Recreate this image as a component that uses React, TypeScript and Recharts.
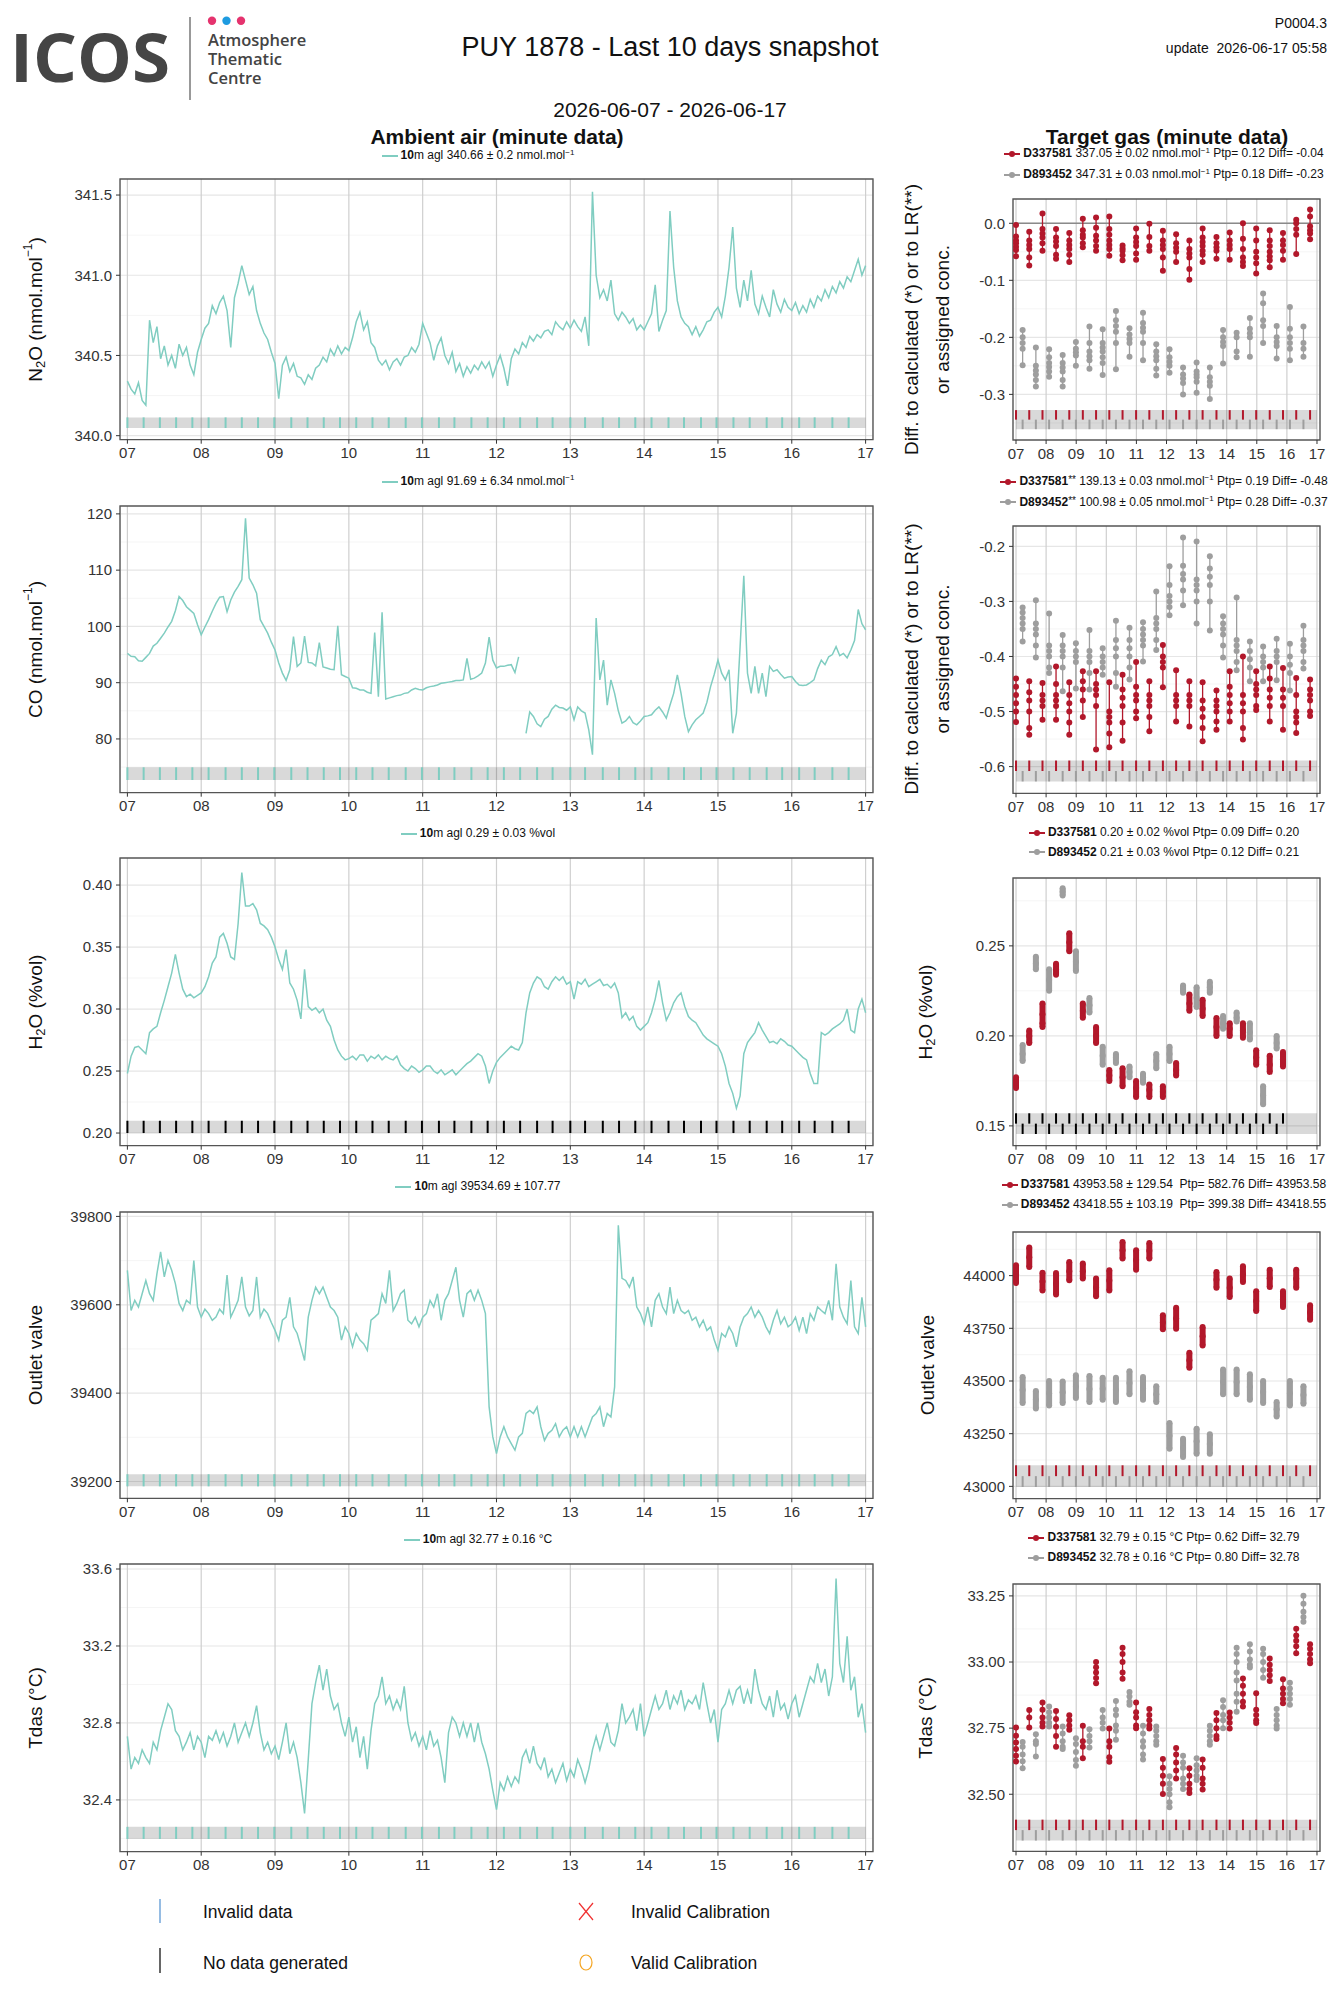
import React from 'react';
import { ComposedChart, Line, Scatter, XAxis, YAxis, CartesianGrid, ReferenceLine, ReferenceArea } from 'recharts';

const FONT = '"Liberation Sans", Arial, Helvetica, sans-serif';
const TEAL = '#80CDC1';
const RED = '#B2182B';
const GRAY = '#9E9E9E';

// ---------- axes / ticks ----------
const DAY_TICKS = [7, 8, 9, 10, 11, 12, 13, 14, 15, 16, 17];
const X_DOMAIN: [number, number] = [6.9, 17.1];
const SERIES_START = 7;
const SERIES_STEP = 0.05;

const N2O_TICKS = [340.0, 340.5, 341.0, 341.5];
const N2O_MINOR = [340.25, 340.75, 341.25];
const CO_TICKS = [80, 90, 100, 110, 120];
const CO_MINOR = [75, 85, 95, 105, 115];
const H2O_TICKS = [0.2, 0.25, 0.3, 0.35, 0.4];
const H2O_MINOR = [0.225, 0.275, 0.325, 0.375];
const OUT_TICKS = [39200, 39400, 39600, 39800];
const OUT_MINOR = [39300, 39500, 39700];
const TDAS_TICKS = [32.4, 32.8, 33.2, 33.6];
const TDAS_MINOR = [32.2, 32.6, 33.0, 33.4];

const N2O_TG_TICKS = [-0.3, -0.2, -0.1, 0.0];
const N2O_TG_MINOR = [-0.35, -0.25, -0.15, -0.05];
const CO_TG_TICKS = [-0.6, -0.5, -0.4, -0.3, -0.2];
const CO_TG_MINOR = [-0.55, -0.45, -0.35, -0.25];
const H2O_TG_TICKS = [0.15, 0.2, 0.25];
const H2O_TG_MINOR = [0.175, 0.225, 0.275];
const OUT_TG_TICKS = [43000, 43250, 43500, 43750, 44000];
const OUT_TG_MINOR = [43125, 43375, 43625, 43875, 44125];
const TDAS_TG_TICKS = [32.5, 32.75, 33.0, 33.25];
const TDAS_TG_MINOR = [32.375, 32.625, 32.875, 33.125];

// ---------- target gas measurement times (days of June) ----------
const TG_RED_TIMES = [7.0, 7.44, 7.88, 8.33, 8.77, 9.22, 9.66, 10.1, 10.54, 10.99, 11.43, 11.88, 12.32, 12.76, 13.2, 13.66, 14.1, 14.54, 14.98, 15.43, 15.87, 16.31, 16.77];
const TG_GRAY_TIMES = [7.22, 7.66, 8.1, 8.55, 8.99, 9.44, 9.88, 10.32, 10.77, 11.22, 11.66, 12.1, 12.55, 13.0, 13.44, 13.88, 14.33, 14.77, 15.21, 15.66, 16.1, 16.55];
const BAND_TIMES = [7.0, 7.22, 7.44, 7.66, 7.88, 8.1, 8.33, 8.55, 8.77, 8.99, 9.22, 9.44, 9.66, 9.88, 10.1, 10.32, 10.54, 10.77, 10.99, 11.22, 11.43, 11.66, 11.88, 12.1, 12.32, 12.55, 12.76, 13.0, 13.2, 13.44, 13.66, 13.88, 14.1, 14.33, 14.54, 14.77, 14.98, 15.21, 15.43, 15.66, 15.87, 16.1, 16.31, 16.55, 16.77];

// ---------- ambient air series (10m agl), one value every 0.05 day from 07.00 ----------
const N2O_10M = [
  340.34, 340.29, 340.26, 340.33, 340.22, 340.19, 340.72, 340.58, 340.68, 340.48, 340.56, 340.44, 340.50, 340.42, 340.57, 340.50, 340.55, 340.44, 340.38, 340.52,
  340.60, 340.67, 340.70, 340.81, 340.76, 340.83, 340.87, 340.78, 340.55, 340.86, 340.95, 341.06, 340.97, 340.88, 340.93, 340.78, 340.70, 340.64, 340.60, 340.52,
  340.45, 340.23, 340.44, 340.49, 340.40, 340.45, 340.37, 340.36, 340.32, 340.38, 340.35, 340.42, 340.44, 340.49, 340.46, 340.54, 340.50, 340.56, 340.51, 340.55,
  340.53, 340.61, 340.71, 340.77, 340.66, 340.71, 340.58, 340.55, 340.47, 340.44, 340.47, 340.41, 340.46, 340.48, 340.44, 340.49, 340.50, 340.55, 340.52, 340.57,
  340.70, 340.64, 340.58, 340.47, 340.56, 340.61, 340.50, 340.45, 340.52, 340.40, 340.45, 340.37, 340.43, 340.39, 340.44, 340.41, 340.46, 340.42, 340.46, 340.37,
  340.44, 340.50, 340.42, 340.31, 340.48, 340.54, 340.51, 340.58, 340.55, 340.62, 340.59, 340.63, 340.61, 340.65, 340.66, 340.63, 340.71, 340.68, 340.66, 340.71,
  340.67, 340.72, 340.68, 340.65, 340.74, 340.56, 341.52, 341.00, 340.86, 340.91, 340.84, 340.97, 340.76, 340.72, 340.77, 340.74, 340.70, 340.73, 340.66, 340.69,
  340.66, 340.71, 340.76, 340.94, 340.65, 340.72, 340.78, 341.40, 341.05, 340.84, 340.74, 340.70, 340.68, 340.63, 340.68, 340.62, 340.66, 340.71, 340.72, 340.77,
  340.80, 340.74, 340.87, 341.05, 341.30, 340.92, 340.80, 340.97, 340.84, 341.03, 340.82, 340.76, 340.87, 340.80, 340.74, 340.91, 340.82, 340.77, 340.85, 340.80,
  340.78, 340.83, 340.76, 340.81, 340.77, 340.85, 340.80, 340.87, 340.84, 340.91, 340.86, 340.93, 340.89, 340.96, 340.92, 340.99, 340.96, 341.03, 341.10, 341.00,
  341.06,
];

const CO_10M: (number | null)[] = [
  95.2, 94.7, 94.6, 93.9, 93.8, 94.5, 95.2, 96.5, 97.0, 97.9, 98.8, 99.9, 100.9, 102.8, 105.3, 104.6, 103.5, 102.9, 102.3, 100.3,
  98.5, 99.9, 101.2, 102.7, 104.1, 105.2, 105.3, 102.6, 104.7, 106.1, 107.1, 108.3, 119.2, 108.6, 107.4, 105.9, 101.2, 100.0, 98.8, 97.2,
  95.8, 93.5, 91.7, 90.4, 92.3, 98.2, 92.9, 93.5, 98.3, 93.6, 93.5, 93.0, 97.1, 92.8, 92.6, 92.4, 92.3, 100.1, 91.4, 91.1,
  90.8, 89.1, 89.0, 88.7, 88.7, 88.3, 88.1, 98.9, 87.5, 102.5, 87.1, 87.3, 87.5, 87.7, 87.8, 88.1, 88.2, 88.7, 89.0, 88.8,
  88.7, 89.1, 89.3, 89.4, 89.6, 89.9, 90.0, 90.1, 90.2, 90.4, 90.4, 90.5, 94.3, 90.6, 90.8, 91.2, 91.7, 93.5, 98.1, 94.0,
  92.6, 92.9, 92.9, 93.1, 93.2, 91.8, 94.6, null, 81.0, 84.8, 84.0, 82.7, 82.2, 83.5, 84.0, 85.3, 86.0, 85.6, 85.5, 85.1,
  85.7, 83.4, 85.7, 85.0, 84.6, 81.6, 77.2, 101.5, 90.5, 94.0, 86.0, 90.5, 88.1, 85.0, 82.8, 83.2, 84.0, 82.9, 82.5, 83.2,
  84.0, 84.1, 84.3, 85.1, 85.7, 84.8, 83.7, 86.0, 88.1, 91.4, 88.1, 84.0, 81.3, 82.5, 83.4, 84.0, 84.6, 86.5, 89.3, 91.5,
  94.0, 91.7, 90.5, 92.3, 81.0, 84.6, 96.4, 109.0, 91.7, 88.1, 92.9, 88.1, 91.7, 87.5, 92.9, 92.0, 92.3, 91.5, 90.8, 91.0,
  91.1, 90.2, 89.6, 89.5, 89.6, 90.0, 90.5, 92.5, 94.0, 93.2, 94.6, 95.0, 96.4, 94.8, 95.2, 94.4, 95.8, 97.5, 103.0, 100.5,
  99.4,
];

const H2O_10M = [
  0.248, 0.262, 0.269, 0.270, 0.267, 0.264, 0.281, 0.284, 0.286, 0.297, 0.307, 0.318, 0.329, 0.344, 0.329, 0.316, 0.310, 0.312, 0.309, 0.311,
  0.313, 0.318, 0.326, 0.337, 0.342, 0.358, 0.361, 0.353, 0.342, 0.340, 0.369, 0.410, 0.383, 0.383, 0.385, 0.380, 0.369, 0.367, 0.364, 0.358,
  0.350, 0.340, 0.332, 0.348, 0.321, 0.316, 0.307, 0.292, 0.332, 0.302, 0.299, 0.301, 0.297, 0.300, 0.291, 0.286, 0.275, 0.267, 0.262, 0.259,
  0.260, 0.262, 0.259, 0.263, 0.263, 0.258, 0.262, 0.260, 0.263, 0.259, 0.262, 0.260, 0.259, 0.262, 0.255, 0.252, 0.250, 0.254, 0.252, 0.249,
  0.251, 0.254, 0.254, 0.250, 0.248, 0.251, 0.247, 0.249, 0.251, 0.247, 0.250, 0.253, 0.256, 0.258, 0.261, 0.264, 0.262, 0.254, 0.240, 0.250,
  0.257, 0.261, 0.264, 0.267, 0.270, 0.268, 0.267, 0.273, 0.297, 0.313, 0.321, 0.326, 0.324, 0.318, 0.316, 0.322, 0.326, 0.323, 0.326, 0.320,
  0.322, 0.308, 0.322, 0.320, 0.324, 0.318, 0.320, 0.322, 0.324, 0.319, 0.320, 0.317, 0.321, 0.313, 0.293, 0.297, 0.291, 0.294, 0.286, 0.283,
  0.286, 0.289, 0.297, 0.308, 0.323, 0.305, 0.291, 0.297, 0.305, 0.310, 0.313, 0.302, 0.294, 0.291, 0.289, 0.284, 0.279, 0.276, 0.274, 0.272,
  0.270, 0.264, 0.254, 0.240, 0.232, 0.220, 0.230, 0.264, 0.273, 0.277, 0.281, 0.289, 0.283, 0.278, 0.273, 0.274, 0.272, 0.276, 0.274, 0.271,
  0.270, 0.267, 0.264, 0.261, 0.259, 0.248, 0.240, 0.240, 0.281, 0.279, 0.281, 0.284, 0.286, 0.288, 0.291, 0.300, 0.283, 0.281, 0.300, 0.308,
  0.297,
];

const OUT_10M = [
  39678, 39587, 39610, 39595, 39625, 39655, 39625, 39610, 39670, 39720, 39663, 39700, 39678, 39648, 39603, 39587, 39610, 39603, 39700, 39595,
  39572, 39590, 39580, 39565, 39572, 39590, 39580, 39667, 39572, 39590, 39610, 39663, 39595, 39575, 39587, 39663, 39572, 39590, 39580, 39560,
  39542, 39520, 39565, 39572, 39617, 39550, 39535, 39505, 39474, 39572, 39610, 39640, 39625, 39640, 39617, 39595, 39587, 39572, 39520, 39550,
  39535, 39505, 39535, 39520, 39512, 39497, 39565, 39572, 39580, 39625, 39603, 39678, 39587, 39603, 39625, 39633, 39565, 39557, 39572, 39550,
  39572, 39580, 39610, 39595, 39625, 39565, 39610, 39625, 39655, 39685, 39610, 39572, 39625, 39633, 39610, 39633, 39610, 39580, 39369, 39301,
  39263, 39301, 39324, 39301, 39286, 39271, 39301, 39309, 39354, 39361, 39354, 39369, 39324, 39293, 39309, 39316, 39331, 39301, 39316, 39324,
  39301, 39324, 39301, 39324, 39301, 39324, 39346, 39354, 39369, 39324, 39354, 39346, 39414, 39780, 39660, 39655, 39640, 39663, 39595, 39580,
  39557, 39595, 39550, 39610, 39625, 39595, 39580, 39640, 39580, 39610, 39587, 39580, 39587, 39565, 39572, 39550, 39565, 39542, 39550, 39520,
  39497, 39535, 39527, 39550, 39535, 39505, 39550, 39572, 39580, 39595, 39572, 39587, 39572, 39550, 39535, 39565, 39587, 39557, 39572, 39550,
  39557, 39572, 39542, 39572, 39535, 39580, 39565, 39595, 39587, 39580, 39610, 39565, 39693, 39595, 39572, 39557, 39655, 39550, 39535, 39617,
  39550,
];

const TDAS_10M = [
  32.73, 32.56, 32.62, 32.59, 32.66, 32.62, 32.59, 32.70, 32.66, 32.76, 32.83, 32.90, 32.87, 32.76, 32.73, 32.66, 32.70, 32.75, 32.66, 32.73,
  32.70, 32.62, 32.73, 32.71, 32.76, 32.70, 32.75, 32.68, 32.73, 32.80, 32.70, 32.75, 32.80, 32.73, 32.80, 32.89, 32.75, 32.66, 32.70, 32.64,
  32.68, 32.61, 32.70, 32.80, 32.64, 32.70, 32.62, 32.49, 32.33, 32.61, 32.90, 33.01, 33.10, 32.97, 33.08, 32.94, 32.87, 32.90, 32.80, 32.73,
  32.83, 32.70, 32.78, 32.62, 32.73, 32.56, 32.76, 32.90, 32.94, 33.04, 32.90, 32.94, 32.87, 32.92, 32.87, 32.99, 32.80, 32.71, 32.75, 32.68,
  32.73, 32.66, 32.76, 32.68, 32.71, 32.62, 32.49, 32.75, 32.83, 32.80, 32.73, 32.80, 32.73, 32.80, 32.70, 32.80, 32.70, 32.64, 32.56, 32.45,
  32.35, 32.49, 32.45, 32.52, 32.47, 32.52, 32.49, 32.62, 32.66, 32.59, 32.68, 32.59, 32.56, 32.62, 32.52, 32.56, 32.49, 32.54, 32.59, 32.50,
  32.56, 32.52, 32.61, 32.56, 32.49, 32.56, 32.66, 32.73, 32.66, 32.73, 32.80, 32.70, 32.68, 32.76, 32.90, 32.80, 32.83, 32.87, 32.76, 32.90,
  32.73, 32.80, 32.87, 32.94, 32.87, 32.90, 32.97, 32.87, 32.94, 32.90, 32.97, 32.87, 32.92, 32.90, 32.94, 32.87, 33.01, 32.90, 32.80, 32.87,
  32.70, 32.87, 32.90, 32.97, 32.90, 32.97, 32.99, 32.90, 32.97, 32.90, 33.08, 32.97, 32.90, 32.87, 32.94, 32.83, 32.97, 32.87, 32.90, 32.82,
  32.90, 32.94, 32.83, 32.90, 32.97, 33.04, 33.01, 33.11, 33.01, 33.08, 32.94, 33.04, 33.55, 33.11, 33.01, 33.25, 32.97, 33.04, 32.83, 32.90,
  32.75,
];

// ---------- target gas clusters (values per measurement) ----------
const N2O_TG_RED = [
  [-0.003, -0.023, -0.030, -0.035, -0.041, -0.047, -0.058], [-0.015, -0.030, -0.038, -0.045, -0.060, -0.074], [0.017, -0.010, -0.018, -0.025, -0.035, -0.048],
  [-0.010, -0.025, -0.032, -0.040, -0.055, -0.062], [-0.017, -0.030, -0.038, -0.045, -0.055, -0.068], [0.008, -0.012, -0.020, -0.025, -0.035, -0.042],
  [0.010, -0.008, -0.022, -0.030, -0.040, -0.048], [0.012, -0.010, -0.020, -0.030, -0.038, -0.045, -0.057], [-0.039, -0.044, -0.048, -0.056, -0.065],
  [-0.009, -0.025, -0.033, -0.040, -0.053, -0.064], [-0.001, -0.024, -0.040, -0.048], [-0.013, -0.030, -0.038, -0.045, -0.060, -0.083],
  [-0.019, -0.035, -0.043, -0.050, -0.068], [-0.030, -0.045, -0.053, -0.060, -0.080, -0.099], [-0.009, -0.025, -0.033, -0.040, -0.048, -0.055, -0.068],
  [-0.024, -0.035, -0.042, -0.048, -0.062], [-0.016, -0.030, -0.038, -0.045, -0.064], [0.000, -0.027, -0.045, -0.060, -0.068, -0.075],
  [-0.009, -0.030, -0.050, -0.060, -0.070, -0.088], [-0.012, -0.030, -0.040, -0.050, -0.058, -0.065, -0.077], [-0.017, -0.030, -0.038, -0.048, -0.064],
  [0.006, 0.000, -0.010, -0.020, -0.054], [0.024, 0.012, -0.005, -0.012, -0.018, -0.028],
];
const N2O_TG_GRAY = [
  [-0.187, -0.200, -0.210, -0.220, -0.249], [-0.218, -0.250, -0.258, -0.265, -0.275, -0.286], [-0.221, -0.235, -0.245, -0.252, -0.260, -0.269],
  [-0.231, -0.245, -0.253, -0.260, -0.275, -0.286], [-0.208, -0.220, -0.226, -0.232, -0.250], [-0.181, -0.210, -0.225, -0.233, -0.240, -0.255],
  [-0.186, -0.210, -0.218, -0.225, -0.235, -0.245, -0.266], [-0.154, -0.170, -0.180, -0.190, -0.210, -0.256], [-0.184, -0.195, -0.203, -0.210, -0.234],
  [-0.157, -0.175, -0.183, -0.190, -0.210, -0.240], [-0.212, -0.225, -0.233, -0.240, -0.255, -0.267], [-0.221, -0.235, -0.243, -0.250, -0.262],
  [-0.253, -0.265, -0.272, -0.280, -0.300], [-0.244, -0.260, -0.265, -0.270, -0.278, -0.297], [-0.253, -0.270, -0.278, -0.285, -0.308],
  [-0.187, -0.200, -0.208, -0.215, -0.246], [-0.192, -0.200, -0.225, -0.235], [-0.166, -0.185, -0.193, -0.200, -0.234],
  [-0.123, -0.140, -0.170, -0.180, -0.210], [-0.180, -0.200, -0.208, -0.215, -0.237], [-0.147, -0.185, -0.200, -0.210, -0.220, -0.240],
  [-0.181, -0.210, -0.220, -0.234],
];

const CO_TG_RED = [
  [-0.440, -0.455, -0.470, -0.485, -0.500, -0.519], [-0.445, -0.465, -0.480, -0.500, -0.530, -0.542], [-0.448, -0.470, -0.480, -0.490, -0.515],
  [-0.418, -0.450, -0.470, -0.480, -0.490, -0.515], [-0.447, -0.470, -0.485, -0.500, -0.520, -0.542], [-0.427, -0.445, -0.460, -0.480, -0.510],
  [-0.427, -0.450, -0.460, -0.470, -0.490, -0.569], [-0.447, -0.500, -0.510, -0.520, -0.540, -0.565], [-0.433, -0.460, -0.475, -0.490, -0.520, -0.553],
  [-0.410, -0.455, -0.470, -0.480, -0.500, -0.512], [-0.445, -0.470, -0.480, -0.490, -0.510, -0.536], [-0.379, -0.400, -0.410, -0.420, -0.456],
  [-0.425, -0.470, -0.480, -0.490, -0.518], [-0.445, -0.470, -0.480, -0.490, -0.527], [-0.447, -0.480, -0.495, -0.510, -0.530, -0.554],
  [-0.462, -0.480, -0.490, -0.500, -0.518, -0.533], [-0.427, -0.455, -0.470, -0.485, -0.500, -0.518], [-0.400, -0.470, -0.485, -0.500, -0.530, -0.551],
  [-0.427, -0.450, -0.460, -0.470, -0.490, -0.497], [-0.418, -0.440, -0.460, -0.475, -0.490, -0.518], [-0.421, -0.460, -0.475, -0.490, -0.533],
  [-0.439, -0.470, -0.500, -0.510, -0.520, -0.539], [-0.442, -0.460, -0.470, -0.480, -0.500, -0.508],
];
const CO_TG_GRAY = [
  [-0.311, -0.320, -0.330, -0.340, -0.350, -0.373], [-0.298, -0.340, -0.350, -0.360, -0.380, -0.402], [-0.322, -0.380, -0.390, -0.400, -0.420, -0.430],
  [-0.361, -0.380, -0.390, -0.400, -0.420, -0.463], [-0.376, -0.390, -0.400, -0.410, -0.458], [-0.352, -0.390, -0.400, -0.410, -0.430, -0.460],
  [-0.385, -0.400, -0.410, -0.420, -0.433], [-0.335, -0.370, -0.385, -0.400, -0.430, -0.455], [-0.348, -0.370, -0.385, -0.400, -0.420, -0.442],
  [-0.338, -0.350, -0.360, -0.370, -0.380, -0.409], [-0.282, -0.330, -0.340, -0.350, -0.370, -0.388], [-0.236, -0.270, -0.290, -0.300, -0.310, -0.325],
  [-0.184, -0.235, -0.250, -0.260, -0.280, -0.307], [-0.191, -0.260, -0.270, -0.280, -0.300, -0.340], [-0.218, -0.240, -0.255, -0.270, -0.300, -0.353],
  [-0.327, -0.340, -0.350, -0.360, -0.380, -0.402], [-0.293, -0.370, -0.380, -0.390, -0.410, -0.425], [-0.373, -0.390, -0.405, -0.420, -0.445],
  [-0.382, -0.400, -0.410, -0.420, -0.445], [-0.368, -0.390, -0.400, -0.410, -0.443], [-0.377, -0.400, -0.415, -0.430, -0.462],
  [-0.344, -0.370, -0.380, -0.390, -0.410, -0.422],
];

const H2O_TG_RED = [
  [0.177, 0.174, 0.171], [0.203, 0.200, 0.196], [0.218, 0.212, 0.207, 0.205], [0.240, 0.237, 0.234], [0.257, 0.252, 0.247],
  [0.218, 0.214, 0.210], [0.205, 0.200, 0.196], [0.181, 0.178, 0.175], [0.182, 0.177, 0.172], [0.175, 0.171, 0.166],
  [0.173, 0.170, 0.166], [0.172, 0.169, 0.166], [0.185, 0.181, 0.178], [0.223, 0.218, 0.214], [0.220, 0.215, 0.211],
  [0.210, 0.205, 0.200], [0.207, 0.204, 0.200], [0.207, 0.203, 0.199], [0.192, 0.188, 0.184], [0.189, 0.184, 0.180],
  [0.191, 0.187, 0.183],
];
const H2O_TG_GRAY = [
  [0.195, 0.190, 0.186], [0.244, 0.240, 0.237], [0.237, 0.231, 0.225], [0.282, 0.280, 0.278], [0.247, 0.241, 0.236],
  [0.221, 0.217, 0.213], [0.194, 0.189, 0.184], [0.190, 0.188, 0.185], [0.183, 0.180, 0.177], [0.179, 0.177, 0.174],
  [0.190, 0.186, 0.182], [0.194, 0.190, 0.186], [0.228, 0.226, 0.224], [0.227, 0.221, 0.216], [0.230, 0.227, 0.224],
  [0.211, 0.207, 0.204], [0.213, 0.210, 0.208], [0.207, 0.202, 0.198], [0.172, 0.167, 0.162], [0.200, 0.196, 0.193],
];

const OUT_TG_RED = [
  [44049, 44007, 43965], [44133, 44087, 44041], [44014, 43972, 43930], [44013, 43962, 43911], [44065, 44021, 43978],
  [44057, 44021, 43986], [43986, 43944, 43902], [44025, 43977, 43930], [44160, 44120, 44081], [44120, 44074, 44028],
  [44155, 44118, 44081], [43812, 43778, 43745], [43847, 43797, 43748], [43634, 43598, 43563], [43756, 43712, 43669],
  [44017, 43980, 43943], [43986, 43942, 43899], [44044, 44007, 43970], [43926, 43879, 43832], [44028, 43987, 43946],
  [43926, 43888, 43851], [44028, 43985, 43943], [43859, 43825, 43791],
];
const OUT_TG_GRAY = [
  [43519, 43457, 43396], [43453, 43411, 43369], [43500, 43442, 43384], [43498, 43447, 43396], [43527, 43473, 43419],
  [43524, 43462, 43400], [43516, 43463, 43411], [43516, 43458, 43400], [43546, 43491, 43437], [43519, 43465, 43411],
  [43475, 43437, 43400], [43301, 43240, 43179], [43226, 43182, 43139], [43274, 43214, 43155], [43247, 43201, 43155],
  [43554, 43495, 43437], [43554, 43495, 43437], [43532, 43471, 43411], [43500, 43448, 43396], [43400, 43366, 43332],
  [43500, 43442, 43384], [43475, 43433, 43392],
];

const TDAS_TG_RED = [
  [32.752, 32.721, 32.696, 32.671, 32.646, 32.624], [32.819, 32.790, 32.752], [32.847, 32.820, 32.790, 32.770, 32.756],
  [32.815, 32.785, 32.755, 32.720, 32.680], [32.799, 32.780, 32.760, 32.744], [32.759, 32.700, 32.680, 32.636],
  [33.000, 32.980, 32.960, 32.940, 32.920], [32.749, 32.700, 32.680, 32.640, 32.623], [33.054, 33.030, 33.000, 32.960, 32.937],
  [32.847, 32.810, 32.790, 32.760, 32.750], [32.822, 32.800, 32.780, 32.760, 32.749], [32.633, 32.600, 32.570, 32.540, 32.501],
  [32.675, 32.650, 32.620, 32.590, 32.560], [32.598, 32.570, 32.540, 32.520, 32.505], [32.631, 32.600, 32.560, 32.540, 32.518],
  [32.807, 32.780, 32.750, 32.720, 32.709], [32.809, 32.790, 32.770, 32.749], [32.938, 32.910, 32.880, 32.850, 32.832],
  [32.882, 32.820, 32.800, 32.780, 32.769], [33.013, 32.990, 32.970, 32.950, 32.928], [32.935, 32.900, 32.880, 32.860, 32.844],
  [33.126, 33.100, 33.080, 33.060, 33.033], [33.067, 33.050, 33.030, 33.010, 32.995],
];
const TDAS_TG_GRAY = [
  [32.698, 32.680, 32.650, 32.625, 32.598], [32.727, 32.700, 32.690, 32.643], [32.832, 32.810, 32.790, 32.770, 32.756],
  [32.756, 32.730, 32.700, 32.680, 32.671], [32.712, 32.690, 32.660, 32.630, 32.608], [32.746, 32.720, 32.700, 32.677],
  [32.819, 32.790, 32.770, 32.749], [32.853, 32.820, 32.800, 32.760, 32.740, 32.706], [32.887, 32.870, 32.850, 32.838],
  [32.759, 32.730, 32.700, 32.680, 32.650, 32.631], [32.756, 32.740, 32.720, 32.700, 32.687], [32.568, 32.540, 32.520, 32.500, 32.470, 32.451],
  [32.646, 32.620, 32.600, 32.560, 32.540, 32.520], [32.636, 32.610, 32.590, 32.570, 32.554], [32.759, 32.740, 32.720, 32.700, 32.687],
  [32.855, 32.830, 32.800, 32.780, 32.750], [33.054, 33.030, 33.000, 32.960, 32.930, 32.880, 32.850, 32.812], [33.067, 33.040, 33.010, 32.990, 32.979],
  [33.050, 33.030, 33.000, 32.970, 32.941], [32.822, 32.800, 32.780, 32.760, 32.749], [32.922, 32.900, 32.880, 32.860, 32.838],
  [33.251, 33.220, 33.190, 33.170, 33.152],
];

// ---------- helpers ----------
const f0 = (v: number) => String(v);
const f1 = (v: number) => v.toFixed(1);
const f2 = (v: number) => v.toFixed(2);
const pad2 = (v: number) => (v < 10 ? '0' + v : String(v));

type Cfg = {
  x: number; y: number; w: number; h: number; yw: number;
  dom: [number, number]; ticks: number[]; minor: number[]; fmt: (v: number) => string;
  band: [number, number];
  series?: (number | null)[];
  bandColor?: string;
  red?: number[][]; gray?: number[][];
  tgTickColors?: [string, string];
  dense?: boolean; zero?: boolean;
};

const R = 3;
const dotShape = (color: string) => (p: any) => <circle cx={p.cx} cy={p.cy} r={R} fill={color} />;

function Panel(c: Cfg) {
  const TM = 6, RM = 6, XH = 30;
  const width = c.yw + c.w + RM;
  const height = TM + c.h + XH;
  const lineData = c.series ? c.series.map((v, i) => ({ x: SERIES_START + i * SERIES_STEP, y: v })) : undefined;
  const redPts = c.red ? c.red.flatMap((vals, i) => vals.map((v) => ({ x: TG_RED_TIMES[i], y: v }))) : [];
  const grayPts = c.gray ? c.gray.flatMap((vals, i) => vals.map((v) => ({ x: TG_GRAY_TIMES[i], y: v }))) : [];
  const mid = (c.band[0] + c.band[1]) / 2;
  const tickFont = { fontSize: 15, fill: '#333', fontFamily: FONT };
  const rangeW = c.dense ? R * 2 : 1.3;
  return (
    <div style={{ position: 'absolute', left: c.x - c.yw, top: c.y - TM }}>
      <ComposedChart width={width} height={height} margin={{ top: TM, right: RM, bottom: 0, left: 0 }}>
        <CartesianGrid vertical={false} horizontalValues={c.minor} stroke="#f3f3f3" strokeWidth={0.8} />
        <CartesianGrid vertical={false} horizontalValues={c.ticks} stroke="#e6e6e6" strokeWidth={1.2} />
        <CartesianGrid horizontal={false} stroke="#cfcfcf" strokeWidth={1.2} />
        <XAxis dataKey="x" type="number" domain={X_DOMAIN} ticks={DAY_TICKS} interval={0} allowDataOverflow
          tickFormatter={pad2} height={XH} tickSize={4} tickMargin={4} axisLine={false}
          tickLine={{ stroke: '#333' }} tick={tickFont} />
        <YAxis type="number" domain={c.dom} ticks={c.ticks} interval={0} allowDataOverflow tickFormatter={c.fmt}
          width={c.yw} tickSize={4} tickMargin={4} axisLine={false} tickLine={{ stroke: '#333' }} tick={tickFont} />
        <ReferenceArea x1={7} x2={17} y1={c.band[0]} y2={c.band[1]} fill="#000" fillOpacity={0.15} stroke="none" />
        {c.zero && <ReferenceLine y={0} stroke="#8a8a8a" strokeWidth={1.6} />}
        {c.bandColor && BAND_TIMES.map((t) => (
          <ReferenceLine key={'bt' + t} segment={[{ x: t, y: c.band[0] }, { x: t, y: c.band[1] }]} stroke={c.bandColor} strokeWidth={2} />
        ))}
        {c.red && c.red.map((_, i) => (
          <ReferenceLine key={'rt' + i} segment={[{ x: TG_RED_TIMES[i], y: mid }, { x: TG_RED_TIMES[i], y: c.band[1] }]}
            stroke={c.tgTickColors ? c.tgTickColors[0] : RED} strokeWidth={2} />
        ))}
        {c.gray && c.gray.map((_, i) => (
          <ReferenceLine key={'gt' + i} segment={[{ x: TG_GRAY_TIMES[i], y: c.band[0] }, { x: TG_GRAY_TIMES[i], y: mid }]}
            stroke={c.tgTickColors ? c.tgTickColors[1] : GRAY} strokeWidth={2} />
        ))}
        {lineData && (
          <Line data={lineData} dataKey="y" type="linear" stroke={TEAL} strokeWidth={1.5} dot={false}
            activeDot={false} connectNulls={false} isAnimationActive={false} />
        )}
        {c.gray && c.gray.map((vals, i) => (
          <ReferenceLine key={'gr' + i} segment={[{ x: TG_GRAY_TIMES[i], y: Math.min(...vals) }, { x: TG_GRAY_TIMES[i], y: Math.max(...vals) }]}
            stroke={GRAY} strokeWidth={rangeW} />
        ))}
        {c.red && c.red.map((vals, i) => (
          <ReferenceLine key={'rr' + i} segment={[{ x: TG_RED_TIMES[i], y: Math.min(...vals) }, { x: TG_RED_TIMES[i], y: Math.max(...vals) }]}
            stroke={RED} strokeWidth={rangeW} />
        ))}
        {c.gray && <Scatter data={grayPts} dataKey="y" fill={GRAY} shape={dotShape(GRAY)} isAnimationActive={false} />}
        {c.red && <Scatter data={redPts} dataKey="y" fill={RED} shape={dotShape(RED)} isAnimationActive={false} />}
        <ReferenceArea x1={X_DOMAIN[0]} x2={X_DOMAIN[1]} y1={c.dom[0]} y2={c.dom[1]} fill="none" fillOpacity={0} stroke="#555" strokeWidth={1.3} />
      </ComposedChart>
    </div>
  );
}

const LX = 120, LW = 753, RX = 1013, RW = 307;

const LEFT: Cfg[] = [
  { x: LX, y: 179.3, w: LW, h: 260.7, yw: 80, dom: [339.975, 341.6], ticks: N2O_TICKS, minor: N2O_MINOR, fmt: f1, band: [340.048, 340.114], series: N2O_10M, bandColor: TEAL },
  { x: LX, y: 506, w: LW, h: 286.7, yw: 80, dom: [70.45, 121.4], ticks: CO_TICKS, minor: CO_MINOR, fmt: f0, band: [72.7, 74.96], series: CO_10M, bandColor: TEAL },
  { x: LX, y: 858.3, w: LW, h: 287.7, yw: 80, dom: [0.1898, 0.4218], ticks: H2O_TICKS, minor: H2O_MINOR, fmt: f2, band: [0.2, 0.2099], series: H2O_10M, bandColor: '#000' },
  { x: LX, y: 1211.7, w: LW, h: 286.3, yw: 80, dom: [39162, 39810], ticks: OUT_TICKS, minor: OUT_MINOR, fmt: f0, band: [39189, 39216.5], series: OUT_10M, bandColor: TEAL },
  { x: LX, y: 1564, w: LW, h: 287.7, yw: 80, dom: [32.131, 33.626], ticks: TDAS_TICKS, minor: TDAS_MINOR, fmt: f1, band: [32.197, 32.26], series: TDAS_10M, bandColor: TEAL },
];

const RIGHT: Cfg[] = [
  { x: RX, y: 199, w: RW, h: 241, yw: 70, dom: [-0.38, 0.0426], ticks: N2O_TG_TICKS, minor: N2O_TG_MINOR, fmt: f1, band: [-0.361, -0.3276], red: N2O_TG_RED, gray: N2O_TG_GRAY, zero: true },
  { x: RX, y: 525.7, w: RW, h: 267.3, yw: 70, dom: [-0.6485, -0.163], ticks: CO_TG_TICKS, minor: CO_TG_MINOR, fmt: f1, band: [-0.627, -0.589], red: CO_TG_RED, gray: CO_TG_GRAY },
  { x: RX, y: 878.3, w: RW, h: 267.7, yw: 70, dom: [0.139, 0.2877], ticks: H2O_TG_TICKS, minor: H2O_TG_MINOR, fmt: f2, band: [0.1455, 0.157], red: H2O_TG_RED, gray: H2O_TG_GRAY, tgTickColors: ['#000', '#000'], dense: true },
  { x: RX, y: 1231.7, w: RW, h: 266.6, yw: 70, dom: [42942, 44207], ticks: OUT_TG_TICKS, minor: OUT_TG_MINOR, fmt: f0, band: [42997, 43100], red: OUT_TG_RED, gray: OUT_TG_GRAY, dense: true },
  { x: RX, y: 1584.3, w: RW, h: 267.4, yw: 70, dom: [32.284, 33.295], ticks: TDAS_TG_TICKS, minor: TDAS_TG_MINOR, fmt: f2, band: [32.325, 32.404], red: TDAS_TG_RED, gray: TDAS_TG_GRAY },
];

// ---------- legends ----------
const Sup = ({ children }: { children: React.ReactNode }) => (
  <span style={{ fontSize: 8, position: 'relative', top: -4.5 }}>{children}</span>
);

function LeftLegend({ y, children }: { y: number; children: React.ReactNode }) {
  return (
    <div style={{ position: 'absolute', left: 278, width: 400, top: y - 8, height: 16, lineHeight: '16px', textAlign: 'center', fontSize: 12, fontFamily: FONT, color: '#111', whiteSpace: 'pre' }}>
      <span style={{ display: 'inline-block', width: 16, height: 2, background: TEAL, verticalAlign: 'middle', marginRight: 3 }} />
      <b>10</b>m agl {children}
    </div>
  );
}

function Glyph({ color }: { color: string }) {
  return (
    <svg width={16} height={8} style={{ verticalAlign: 'middle', marginRight: 3 }}>
      <line x1={0} y1={4} x2={16} y2={4} stroke={color} strokeWidth={2} />
      <circle cx={8} cy={4} r={3} fill={color} />
    </svg>
  );
}

function TGLegend({ y, rows }: { y: number; rows: { color: string; id: string; stars?: boolean; text: React.ReactNode }[] }) {
  return (
    <div style={{ position: 'absolute', left: 964, width: 400, top: y - 9.85, textAlign: 'center', fontSize: 12, lineHeight: '19.7px', fontFamily: FONT, color: '#111', whiteSpace: 'pre' }}>
      <div style={{ display: 'inline-block', textAlign: 'left' }}>
        {rows.map((r) => (
          <div key={r.id}>
            <Glyph color={r.color} />
            <b>{r.id}</b>{r.stars ? <span style={{ fontSize: 10, position: 'relative', top: -2 }}>**</span> : null} {r.text}
          </div>
        ))}
      </div>
    </div>
  );
}

function VLabel({ x, y, children }: { x: number; y: number; children: React.ReactNode }) {
  return (
    <text x={x} y={y} transform={`rotate(-90 ${x} ${y})`} textAnchor="middle" dominantBaseline="central" fontSize={19} fontFamily={FONT} fill="#111">
      {children}
    </text>
  );
}

const Nmol = () => (
  <>
    <tspan>(nmol.mol</tspan>
    <tspan fontSize={12} dy={-7}>−1</tspan>
    <tspan dy={7}>)</tspan>
  </>
);

export default function App() {
  return (
    <div style={{ position: 'absolute', left: 0, top: 0, width: 1340, height: 2000, background: '#fff', fontFamily: FONT, overflow: 'hidden' }}>
      {LEFT.map((c, i) => <Panel key={'l' + i} {...c} />)}
      {RIGHT.map((c, i) => <Panel key={'r' + i} {...c} />)}

      <LeftLegend y={155}>340.66 ± 0.2 nmol.mol<Sup>−1</Sup></LeftLegend>
      <LeftLegend y={480.7}>91.69 ± 6.34 nmol.mol<Sup>−1</Sup></LeftLegend>
      <LeftLegend y={832.7}>0.29 ± 0.03 %vol</LeftLegend>
      <LeftLegend y={1186}>39534.69 ± 107.77</LeftLegend>
      <LeftLegend y={1539}>32.77 ± 0.16 °C</LeftLegend>

      <TGLegend y={154.3} rows={[
        { color: RED, id: 'D337581', text: <>337.05 ± 0.02 nmol.mol<Sup>−1</Sup> Ptp= 0.12 Diff= -0.04</> },
        { color: GRAY, id: 'D893452', text: <>347.31 ± 0.03 nmol.mol<Sup>−1</Sup> Ptp= 0.18 Diff= -0.23</> },
      ]} />
      <TGLegend y={481.7} rows={[
        { color: RED, id: 'D337581', stars: true, text: <>139.13 ± 0.03 nmol.mol<Sup>−1</Sup> Ptp= 0.19 Diff= -0.48</> },
        { color: GRAY, id: 'D893452', stars: true, text: <>100.98 ± 0.05 nmol.mol<Sup>−1</Sup> Ptp= 0.28 Diff= -0.37</> },
      ]} />
      <TGLegend y={832.7} rows={[
        { color: RED, id: 'D337581', text: <>0.20 ± 0.02 %vol Ptp= 0.09 Diff= 0.20</> },
        { color: GRAY, id: 'D893452', text: <>0.21 ± 0.03 %vol Ptp= 0.12 Diff= 0.21</> },
      ]} />
      <TGLegend y={1185.3} rows={[
        { color: RED, id: 'D337581', text: <>43953.58 ± 129.54  Ptp= 582.76 Diff= 43953.58</> },
        { color: GRAY, id: 'D893452', text: <>43418.55 ± 103.19  Ptp= 399.38 Diff= 43418.55</> },
      ]} />
      <TGLegend y={1538.3} rows={[
        { color: RED, id: 'D337581', text: <>32.79 ± 0.15 °C Ptp= 0.62 Diff= 32.79</> },
        { color: GRAY, id: 'D893452', text: <>32.78 ± 0.16 °C Ptp= 0.80 Diff= 32.78</> },
      ]} />

      <svg width={1340} height={2000} style={{ position: 'absolute', left: 0, top: 0, pointerEvents: 'none' }}>
        {/* logo */}
        <text x={10} y={56} dominantBaseline="central" fontFamily='"Open Sans", "DejaVu Sans", sans-serif' fontWeight={700} fontSize={66} fill="#454545" textLength={160} lengthAdjust="spacingAndGlyphs">ICOS</text>
        <line x1={190} y1={17} x2={190} y2={100} stroke="#555" strokeWidth={1.2} />
        <circle cx={212} cy={20.7} r={4.2} fill="#E5336E" />
        <circle cx={226.5} cy={20.7} r={4.2} fill="#1E9BE0" />
        <circle cx={241} cy={20.7} r={4.2} fill="#E5336E" />
        <g fontFamily='"Open Sans", "DejaVu Sans", sans-serif' fontWeight={600} fontSize={16.5} fill="#444">
          <text x={208} y={39.5} dominantBaseline="central">Atmosphere</text>
          <text x={208} y={58.7} dominantBaseline="central">Thematic</text>
          <text x={208} y={77.8} dominantBaseline="central">Centre</text>
        </g>

        {/* titles */}
        <g fontFamily={FONT} fill="#111">
          <text x={670} y={47} textAnchor="middle" dominantBaseline="central" fontSize={27}>PUY 1878 - Last 10 days snapshot</text>
          <text x={1327} y={23.3} textAnchor="end" dominantBaseline="central" fontSize={14}>P0004.3</text>
          <text x={1327} y={48.3} textAnchor="end" dominantBaseline="central" fontSize={14} style={{ whiteSpace: 'pre' }}>update  2026-06-17 05:58</text>
          <text x={670} y={109} textAnchor="middle" dominantBaseline="central" fontSize={21}>2026-06-07 - 2026-06-17</text>
          <text x={497} y={136.7} textAnchor="middle" dominantBaseline="central" fontSize={21} fontWeight={700}>Ambient air (minute data)</text>
          <text x={1167} y={136.7} textAnchor="middle" dominantBaseline="central" fontSize={21} fontWeight={700}>Target gas (minute data)</text>
        </g>

        {/* left y labels */}
        <VLabel x={35} y={309.5}>N<tspan fontSize={13} dy={5}>2</tspan><tspan dy={-5}>O </tspan><Nmol /></VLabel>
        <VLabel x={35} y={649.5}>CO <Nmol /></VLabel>
        <VLabel x={35} y={1002}>H<tspan fontSize={13} dy={5}>2</tspan><tspan dy={-5}>O (%vol)</tspan></VLabel>
        <VLabel x={35} y={1355}>Outlet valve</VLabel>
        <VLabel x={35} y={1708}>Tdas (°C)</VLabel>

        {/* right y labels */}
        <VLabel x={911} y={319.5}>Diff. to calculated (*) or to LR(**)</VLabel>
        <VLabel x={942} y={319.5}>or assigned conc.</VLabel>
        <VLabel x={911} y={659}>Diff. to calculated (*) or to LR(**)</VLabel>
        <VLabel x={942} y={659}>or assigned conc.</VLabel>
        <VLabel x={925} y={1012}>H<tspan fontSize={13} dy={5}>2</tspan><tspan dy={-5}>O (%vol)</tspan></VLabel>
        <VLabel x={927} y={1365}>Outlet valve</VLabel>
        <VLabel x={925} y={1718}>Tdas (°C)</VLabel>

        {/* bottom legend */}
        <line x1={160} y1={1899} x2={160} y2={1923} stroke="#4F8FD0" strokeWidth={1.2} />
        <line x1={160} y1={1948} x2={160} y2={1973} stroke="#000" strokeWidth={1.2} />
        <line x1={579} y1={1903} x2={593} y2={1920} stroke="#F03030" strokeWidth={1.2} />
        <line x1={593} y1={1903} x2={579} y2={1920} stroke="#F03030" strokeWidth={1.2} />
        <ellipse cx={586} cy={1962.5} rx={6} ry={7.5} fill="none" stroke="#F5A623" strokeWidth={1.2} />
        <g fontFamily={FONT} fontSize={17.5} fill="#111">
          <text x={203} y={1912} dominantBaseline="central">Invalid data</text>
          <text x={203} y={1962.7} dominantBaseline="central">No data generated</text>
          <text x={631} y={1912} dominantBaseline="central">Invalid Calibration</text>
          <text x={631} y={1962.7} dominantBaseline="central">Valid Calibration</text>
        </g>
      </svg>
    </div>
  );
}
